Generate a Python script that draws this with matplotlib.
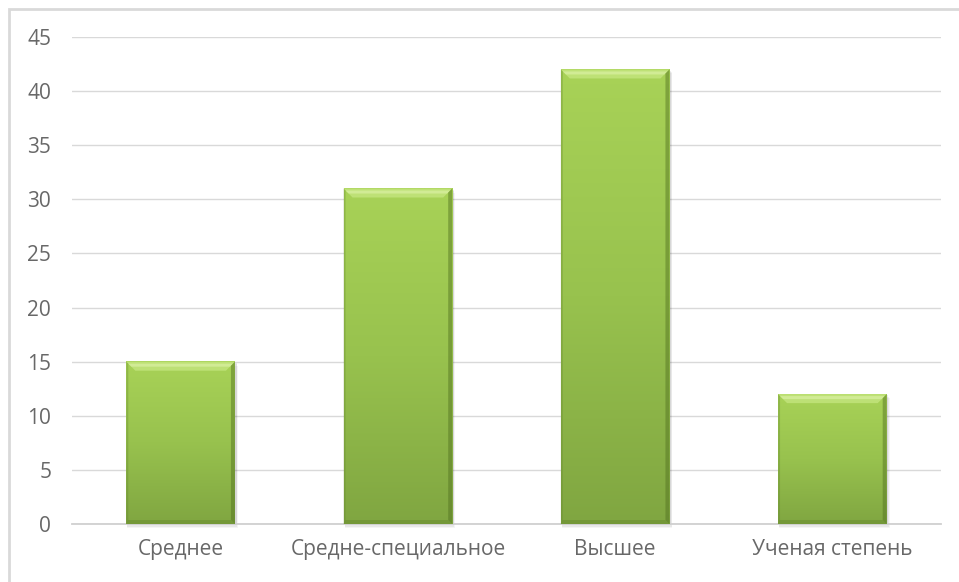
import numpy as np
import matplotlib
matplotlib.use('Agg')
import matplotlib.pyplot as plt
from matplotlib.patches import Polygon, Rectangle
from matplotlib.colors import LinearSegmentedColormap

categories = ['Среднее', 'Средне-специальное', 'Высшее', 'Ученая степень']
values = [15, 31, 42, 12]
yticks = [0, 5, 10, 15, 20, 25, 30, 35, 40, 45]

plt.rcParams['font.family'] = ['Open Sans', 'DejaVu Sans']

fig = plt.figure(figsize=(9.59, 5.82), dpi=100)
W, H = 959, 582
ax = fig.add_axes([72/W, 58/H, (941-72)/W, (524-37)/H])

# outer frame (only left/top visible in the picture)
fig.add_artist(Rectangle((9/W, -0.1), 1.2, (H-9)/H + 0.1, transform=fig.transFigure,
                         fill=False, edgecolor='#d9d9d9', linewidth=2))

x = np.arange(len(categories))
bars = ax.bar(x, values, width=0.5, color='none', edgecolor='none', zorder=3)

ax.set_xlim(-0.5, 3.5)
ax.set_ylim(0, 45)
ax.set_yticks(yticks)
ax.set_xticks(x)
ax.set_xticklabels(categories)
ax.yaxis.grid(True, color='#d9d9d9', linewidth=1)
ax.set_axisbelow(True)
for s in ['top', 'right', 'left']:
    ax.spines[s].set_visible(False)
ax.spines['bottom'].set_color('#d0d0d0')
ax.spines['bottom'].set_linewidth(1.3)
ax.tick_params(length=0, colors='#686868', labelsize=15)
ax.tick_params(axis='y', pad=15)
ax.tick_params(axis='x', pad=11)

cmap = LinearSegmentedColormap.from_list('g', ['#80a641', '#98c24e', '#a8d257'])
grad = np.linspace(0, 1, 256).reshape(-1, 1)

fig.canvas.draw()
for b in bars:
    x0, y0 = b.get_x(), 0
    x1, y1 = b.get_x() + b.get_width(), b.get_height()
    ax.imshow(grad, cmap=cmap, origin='lower', aspect='auto', interpolation='bilinear',
              extent=[x0, x1, y0, y1], zorder=3)
    # bevel edges in display units
    bb = b.get_window_extent()
    L, R, B, T = bb.x0, bb.x1, bb.y0, bb.y1
    d = 9
    # soft shadow, below the bar
    for k, a in [(4, 0.04), (2.5, 0.05), (1.2, 0.07)]:
        sh = Rectangle((L + 1, B - k), R - L + k / 2, T - B, transform=None,
                       facecolor='#000000', alpha=a, edgecolor='none', zorder=2.5)
        sh.set_clip_on(False)
        ax.add_artist(sh)
    ax.add_artist(Polygon([[L, T], [R, T], [R - d, T - d], [L + d, T - d]], closed=True,
                          transform=None, facecolor='#c8e884', alpha=0.7, edgecolor='none', zorder=4))
    ax.add_artist(Polygon([[L + 2, T - 2], [R - 2, T - 2], [R - 5, T - 5], [L + 5, T - 5]], closed=True,
                          transform=None, facecolor='#e2f5b0', alpha=0.55, edgecolor='none', zorder=4))
    ax.add_artist(Polygon([[R, T], [R, B], [R - 4, B + 4], [R - 4, T - 4]], closed=True,
                          transform=None, facecolor='#4f6e1e', alpha=0.45, edgecolor='none', zorder=4))
    ax.add_artist(Polygon([[L, T], [L, B], [L + 2, B + 3], [L + 2, T - 2]], closed=True,
                          transform=None, facecolor='#5e7f2a', alpha=0.3, edgecolor='none', zorder=4))
    ax.add_artist(Polygon([[L, B], [R, B], [R - 4, B + 4], [L + 2, B + 4]], closed=True,
                          transform=None, facecolor='#5e7f2a', alpha=0.35, edgecolor='none', zorder=4))

fig.savefig('out.png', dpi=100)
